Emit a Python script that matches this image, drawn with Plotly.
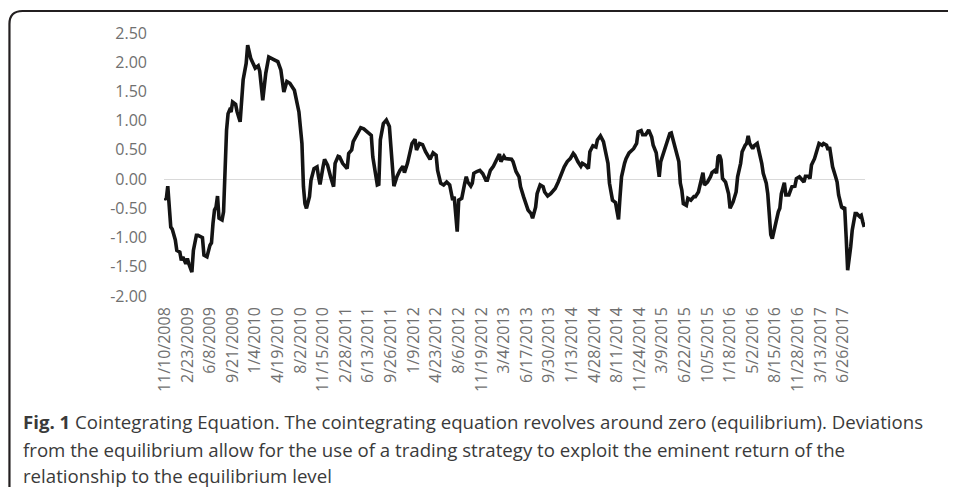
import plotly.graph_objects as go

# ---- data (week index from 11/10/2008, value) ----
weeks = [0,1,2,3,4,5,7,8,10,11,12,14,15,16,18,19,21,22,25,26,28,30,31,32,33,34,35,36,38,39,
         40,41,42,43,44,45,47,48,50,51,52,54,55,57,58,60,62,63,64,65,67,69,72,75,77,78,79,81,83,86,
         88,89,91,92,93,94,96,97,99,101,102,103,105,106,108,109,110,112,113,115,116,118,119,121,
         122,124,125,128,130,132,134,137,138,140,141,142,143,145,147,149,150,151,152,154,156,158,
         159,161,162,164,166,167,169,171,173,175,176,178,180,181,183,185,187,189,190,191,192,193,
         194,195,197,199,200,201,203,204,205,207,209,211,213,214,216,218,219,221,222,223,225,226,
         228,230,231,233,235,236,238,240,241,243,244,246,247,249,251,252,254,256,258,259,261,263,
         265,267,269,271,272,274,276,277,279,281,282,284,286,287,289,291,292,294,295,297,298,299,
         300,301,302,303,305,306,308,309,311,313,314,316,317,319,320,321,323,324,326,327,328,329,
         331,333,335,336,337,339,341,342,343,344,346,347,349,351,352,354,355,357,358,360,362,363,
         365,366,367,368,369,370,372,374,375,377,379,380,382,383,385,386,387,388,390,391,393,394,
         396,397,399,400,401,402,403,405,407,408,409,411,412,414,415,416,418,419,421,423,424,425,
         427,428,429,431,432,434,436,437,439,440,441,442,443,445,446,447,449,450,451,452,453,455,
         456,458,459,461,462,463,464]
values = [-0.32,-0.35,-0.12,-0.55,-0.82,-0.86,-1.04,-1.22,-1.25,-1.39,-1.33,-1.45,-1.36,-1.45,-1.59,-1.22,-0.96,-0.96,-1.00,-1.30,
          -1.33,-1.13,-1.09,-0.76,-0.53,-0.48,-0.29,-0.67,-0.70,-0.56,
          0.30,0.84,1.12,1.18,1.15,1.32,1.28,1.15,0.98,1.27,1.70,1.98,2.29,2.07,2.01,1.90,1.94,1.85,1.60,1.35,
          1.81,2.09,2.05,2.01,1.87,1.67,1.49,1.67,1.64,1.52,
          1.24,1.15,0.61,-0.13,-0.42,-0.50,-0.30,-0.02,0.18,0.21,0.04,-0.09,0.21,0.34,0.24,0.10,0.04,-0.13,0.27,0.39,
          0.38,0.27,0.24,0.18,
          0.44,0.50,0.64,0.78,0.88,0.86,0.81,0.75,0.38,0.10,-0.10,-0.09,0.67,0.95,1.01,0.90,0.55,0.10,-0.12,0.04,
          0.15,0.22,
          0.11,0.27,0.38,0.61,0.68,0.50,0.61,0.59,0.47,0.39,0.34,0.45,0.41,0.15,-0.07,-0.10,-0.05,-0.10,-0.25,-0.36,
          -0.30,-0.55,
          -0.90,-0.36,-0.33,-0.07,0.04,-0.05,-0.12,-0.07,0.10,0.13,0.15,0.09,-0.02,-0.02,0.15,0.22,0.27,0.38,0.43,0.30,
          0.39,0.35,
          0.35,0.34,0.30,0.13,0.04,-0.13,-0.30,-0.45,-0.53,-0.59,-0.67,-0.48,-0.25,-0.10,-0.13,-0.22,-0.29,-0.25,-0.19,-0.16,
          -0.05,0.10,
          0.21,0.30,0.35,0.44,0.41,0.30,0.22,0.27,0.24,0.18,0.47,0.57,0.55,0.67,0.74,0.64,0.50,0.27,-0.07,-0.36,
          -0.38,-0.40,
          -0.55,-0.69,-0.30,0.04,0.27,0.35,0.45,0.48,0.52,0.61,0.81,0.83,0.76,0.76,0.81,0.84,0.72,0.58,0.45,0.25,
          0.04,0.30,
          0.47,0.64,0.78,0.79,0.70,0.52,0.30,-0.07,-0.19,-0.42,-0.45,-0.33,-0.36,-0.30,-0.30,-0.22,-0.10,0.11,-0.10,-0.05,
          0.04,0.11,
          0.15,0.10,0.38,0.41,0.33,0.01,-0.05,-0.25,-0.50,-0.39,-0.22,0.04,0.27,0.47,0.58,0.61,0.74,0.61,0.52,0.57,
          0.61,0.50,
          0.27,0.10,-0.07,-0.25,-0.59,-0.95,-1.02,-0.76,-0.56,-0.50,-0.25,-0.06,-0.27,-0.27,-0.18,-0.13,-0.12,0.01,0.04,-0.01,
          -0.05,0.05,
          0.05,0.01,0.24,0.35,0.44,0.61,0.58,0.61,0.58,0.50,0.55,0.41,0.21,0.04,-0.05,-0.27,-0.48,-0.50,-0.48,-0.99,
          -1.56,-1.16,
          -0.88,-0.59,-0.59,-0.64,-0.62,-0.73,-0.82]

x_tick_labels = ["11/10/2008", "2/23/2009", "6/8/2009", "9/21/2009", "1/4/2010", "4/19/2010",
                 "8/2/2010", "11/15/2010", "2/28/2011", "6/13/2011", "9/26/2011", "1/9/2012",
                 "4/23/2012", "8/6/2012", "11/19/2012", "3/4/2013", "6/17/2013", "9/30/2013",
                 "1/13/2014", "4/28/2014", "8/11/2014", "11/24/2014", "3/9/2015", "6/22/2015",
                 "10/5/2015", "1/18/2016", "5/2/2016", "8/15/2016", "11/28/2016", "3/13/2017",
                 "6/26/2017"]
x_tick_weeks = [15 * i for i in range(len(x_tick_labels))]
y_tick_vals = [-2.0, -1.5, -1.0, -0.5, 0.0, 0.5, 1.0, 1.5, 2.0, 2.5]
y_tick_labels = ["-2.00", "-1.50", "-1.00", "-0.50", "0.00", "0.50", "1.00", "1.50", "2.00", "2.50"]

caption_lines = [
    "<b>Fig. 1</b> Cointegrating Equation. The cointegrating equation revolves around zero (equilibrium). Deviations",
    "from the equilibrium allow for the use of a trading strategy to exploit the eminent return of the",
    "relationship to the equilibrium level",
]

assert len(weeks) == len(values)

# ---- layout geometry (pixels); the page body adds an 8px offset ----
OFF = 8
FW, FH = 948, 479
ML, MR, MT, MB = 155.7, 90.6, 25, 191
PW = FW - ML - MR
PH = FH - MT - MB

def px(x):  # window pixel -> paper
    return (x - OFF - ML) / PW

def py(y):
    return (FH - MB - (y - OFF)) / PH

fig = go.Figure()
fig.add_trace(go.Scatter(
    x=weeks, y=values, mode="lines",
    line=dict(color="#141414", width=3.6),
    hoverinfo="skip", showlegend=False,
))

tick_font = dict(family="Open Sans", size=16, color="#707070")

fig.update_layout(
    width=FW, height=FH,
    margin=dict(l=ML, r=MR, t=MT, b=MB, pad=0),
    paper_bgcolor="white", plot_bgcolor="white",
    showlegend=False,
    xaxis=dict(
        range=[-0.5, 464.5], tickmode="array", tickvals=x_tick_weeks, ticktext=x_tick_labels,
        tickangle=-90, showgrid=False, zeroline=False, showline=False, ticks="",
        tickfont=tick_font, ticklabelstandoff=7, fixedrange=True,
    ),
    yaxis=dict(
        range=[-2.0, 2.5], tickmode="array", tickvals=y_tick_vals, ticktext=y_tick_labels,
        showgrid=False, zeroline=True, zerolinecolor="#d9d9d9", zerolinewidth=1,
        showline=False, ticks="", tickfont=tick_font, ticklabelstandoff=16, fixedrange=True,
    ),
)

# frame (rounded corner, top and left)
frame_path = (f"M {px(9)},{py(500)} L {px(9)},{py(24)} Q {px(9)},{py(11)} {px(22)},{py(11)} "
              f"L {px(970)},{py(11)}")
fig.add_shape(type="path", xref="paper", yref="paper", path=frame_path,
              line=dict(color="#231f20", width=2.2), layer="above")

# caption
cap_y = [422, 449, 475]
for line, yy in zip(caption_lines, cap_y):
    fig.add_annotation(
        xref="paper", yref="paper", x=px(21), y=py(yy), xanchor="left", yanchor="middle",
        text=line, showarrow=False, align="left",
        font=dict(family="Open Sans", size=18.65, color="#3a3a3a"),
    )

fig.write_html("out.html")
